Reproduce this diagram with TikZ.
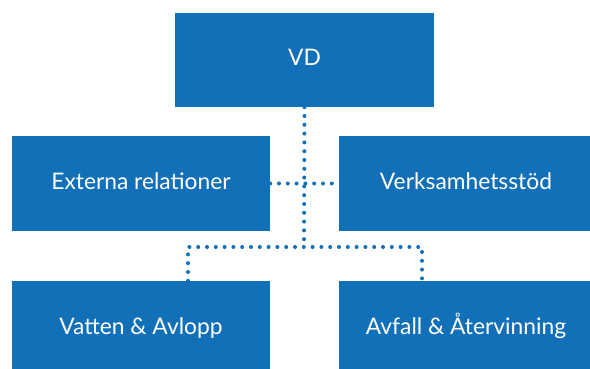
\documentclass[tikz,border=0pt]{standalone}
\usepackage{fontspec}
\setmainfont{Lato}
\usepackage{tikz}
\usetikzlibrary{calc}
\definecolor{orgblue}{RGB}{17,112,183}

\begin{document}
\begin{tikzpicture}[x=1pt,y=1pt,
    unit/.style={fill=orgblue,text=white,inner sep=0pt,
      text height=16pt,text depth=4.5pt,
      font=\fontsize{22.8}{26}\selectfont},
    conn/.style={orgblue,line width=4pt,line cap=round,
      dash pattern=on 0pt off 8.8pt}]
  \clip (0,0) rectangle (590,369);
  \node[unit,minimum width=259pt,minimum height=94pt] (vd) at (304.5,309) {VD};
  \node[unit,minimum width=258pt,minimum height=95pt] (ext) at (141,185.5) {Externa relationer};
  \node[unit,minimum width=254pt,minimum height=95pt] (verk) at (466,185.5) {Verksamhetsstöd};
  \node[unit,minimum width=258pt,minimum height=95pt] (vatten) at (141,40.5) {Vatten \& Avlopp};
  \node[unit,minimum width=254pt,minimum height=95pt] (avfall) at (466,40.5) {Avfall \& Återvinning};
  % dotted lines between units
  \coordinate (mid) at (304,122);
  \coordinate (left) at (188,122);
  \coordinate (right) at (422,122);
  \draw[conn] (vd.south) -- (mid);
  \draw[conn] (ext.east) -- (verk.west);
  \draw[conn] (vatten.north -| left) -- (left) -- (right) -- (avfall.north -| right);
\end{tikzpicture}
\end{document}
